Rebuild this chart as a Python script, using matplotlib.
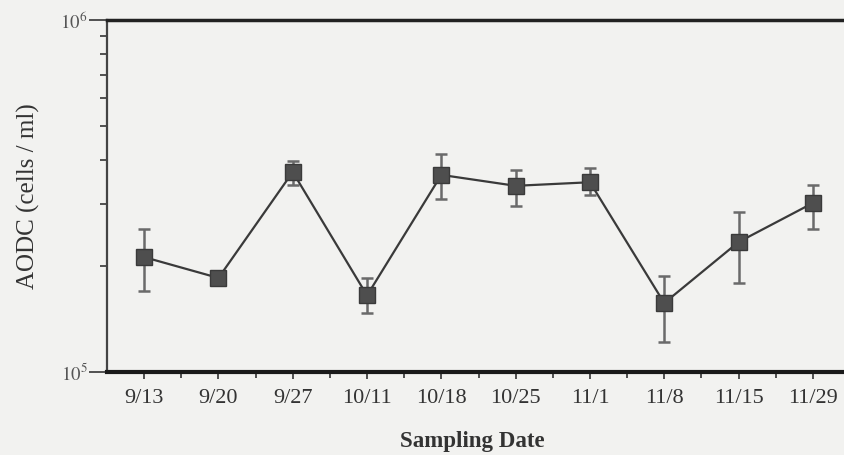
import numpy as np
import matplotlib.pyplot as plt
from matplotlib.ticker import FixedLocator, NullFormatter, LogLocator

plt.rcParams['font.family'] = ['Liberation Serif', 'DejaVu Serif']
plt.rcParams['mathtext.fontset'] = 'stix'

# values (cells / ml)
dates = ['9/13', '9/20', '9/27', '10/11', '10/18', '10/25', '11/1', '11/8', '11/15', '11/29']
aodc = [2.12e5, 1.85e5, 3.70e5, 1.65e5, 3.63e5, 3.38e5, 3.46e5, 1.57e5, 2.34e5, 3.02e5]
err_low = [1.70e5, 1.83e5, 3.40e5, 1.47e5, 3.10e5, 2.96e5, 3.18e5, 1.22e5, 1.79e5, 2.55e5]
err_high = [2.55e5, 1.87e5, 3.98e5, 1.85e5, 4.16e5, 3.75e5, 3.80e5, 1.87e5, 2.85e5, 3.40e5]

x = np.arange(len(dates))
y = np.array(aodc)
yerr = [y - np.array(err_low), np.array(err_high) - y]

fig = plt.figure(figsize=(8.44, 4.55), dpi=100)
fig.patch.set_facecolor('#f2f2f0')
ax = fig.add_axes([107 / 844, 83 / 455, 743 / 844, 352 / 455])
ax.set_facecolor('#f2f2f0')

ax.errorbar(x, y, yerr=yerr, fmt='none', ecolor='#6a6a6a', elinewidth=1.8,
            capsize=4.5, capthick=1.8, zorder=2)
ax.plot(x, y, color='#3a3a3a', linewidth=1.6, zorder=3)
ax.plot(x, y, linestyle='none', marker='s', markersize=12,
        markerfacecolor='#4e4e4e', markeredgecolor='#3a3a3a', zorder=4)

ax.set_yscale('log')
ax.set_ylim(1e5, 1e6)
ax.set_xlim(-0.5, 9.5)

ax.set_xticks(x)
ax.set_xticklabels(dates, fontsize=16, color='#333333')
ax.xaxis.set_minor_locator(FixedLocator(x[:-1] + 0.5))
ax.tick_params(axis='x', which='major', direction='out', length=5, width=1.2,
               pad=7, color='#333333')
ax.tick_params(axis='x', which='minor', direction='out', length=4, width=1.2,
               color='#333333')

ax.set_yticks([1e5, 1e6])
ax.set_yticklabels([r'$10^{5}$', r'$10^{6}$'], fontsize=13.5, color='#555555')
ax.yaxis.set_minor_locator(LogLocator(base=10, subs=np.arange(2, 10)))
ax.yaxis.set_minor_formatter(NullFormatter())
ax.tick_params(axis='y', which='major', direction='out', length=13, width=1.3,
               color='#444444', pad=1)
ax.tick_params(axis='y', which='minor', direction='out', length=5, width=1.3,
               color='#444444')

ax.spines['right'].set_visible(False)
ax.spines['top'].set_linewidth(2.5)
ax.spines['top'].set_color('#222222')
ax.spines['bottom'].set_linewidth(3.0)
ax.spines['bottom'].set_color('#1a1a1a')
ax.spines['left'].set_linewidth(1.6)
ax.spines['left'].set_color('#444444')

fig.text(28 / 844, 1 - 196 / 455, 'AODC (cells / ml)', rotation=90,
         ha='center', va='center', fontsize=18, color='#333333')
fig.text(472 / 844, 1 - 447 / 455, 'Sampling Date', ha='center', va='baseline',
         fontsize=16.5, fontweight='bold', color='#333333')

fig.savefig('out.png', dpi=100, facecolor=fig.get_facecolor())
